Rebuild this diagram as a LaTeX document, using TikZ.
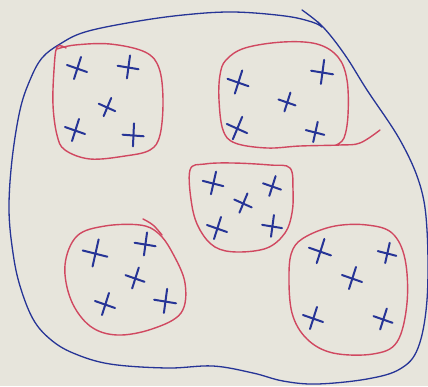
\documentclass[tikz,border=0pt]{standalone}
\usepackage{tikz}
\usetikzlibrary{calc}

\definecolor{paper}{RGB}{231,229,220}
\definecolor{inkblue}{RGB}{38,52,150}
\definecolor{inkred}{RGB}{208,72,96}

\begin{document}
\begin{tikzpicture}[x=1pt,y=-1pt,
    outline/.style={inkblue, line width=1.3pt, line cap=round, line join=round},
    blob/.style={inkred, line width=1.4pt, line cap=round, line join=round},
    cross/.style={inkblue, line width=2pt, line cap=round}
]
\fill[paper] (0,0) rectangle (428,386);
\useasboundingbox (0,0) rectangle (428,386);

% outer curve
\draw[outline] plot[smooth, tension=0.6] coordinates {
    (302,10) (323,27) (345,55) (367,90) (400,140) (420,185) (427,230)
    (427,300) (418,348) (400,369) (367,379) (317,384) (283,381) (253,373)
    (213,366) (167,368) (110,364) (73,353) (50,339) (33,319) (20,286)
    (13,253) (9,210) (12,160) (20,110) (30,80) (42,58) (60,44) (85,32)
    (133,22) (183,15) (233,12) (285,16) (312,22) (322,27)};
\draw[outline] (322,27) -- (318,22);

% groups
\draw[blob] plot[smooth, tension=0.6] coordinates {
    (66,48) (57,47) (54,70) (53,105) (57,135) (65,150) (90,159) (125,156)
    (150,150) (160,135) (163,100) (159,68) (145,52) (110,44) (75,45) (57,49)};
\draw[blob] plot[smooth, tension=0.6] coordinates {
    (380,130) (360,143) (340,145) (300,146) (267,148) (235,143) (223,130)
    (219,100) (220,75) (226,60) (245,48) (283,42) (317,44) (338,57) (347,80)
    (348,115) (344,138) (336,145)};
\draw[blob] plot[smooth cycle, tension=0.6] coordinates {
    (190,170) (205,164) (233,163) (270,165) (290,168) (293,190) (292,213)
    (285,233) (267,248) (237,252) (215,247) (200,230) (192,206)};
\draw[blob] plot[smooth cycle, tension=0.6] coordinates {
    (77,236) (105,226) (140,225) (158,233) (172,252) (185,283) (181,313)
    (152,329) (117,335) (90,326) (71,300) (65,265)};
\draw[blob] plot[smooth, tension=0.6] coordinates {
    (143,219) (153,225) (162,235)};
\draw[blob] plot[smooth cycle, tension=0.6] coordinates {
    (307,236) (335,226) (367,225) (392,233) (405,259) (407,303) (397,342)
    (373,354) (333,353) (307,339) (292,313) (289,273) (293,249)};

% points
\foreach \px/\py/\rot/\sz in {
    77/68/0/1, 128/67/10/1, 107/107/-5/0.85, 75/130/0/1, 133/135/15/1,
    238/82/0/1.05, 322/72/10/1.05, 287/102/0/0.85, 237/128/-5/1.05, 315/132/5/0.9,
    213/183/5/1, 272/186/0/0.9, 243/203/-5/0.9, 217/228/0/1, 272/226/10/0.95,
    95/253/5/1.2, 145/244/10/1, 135/278/0/0.95, 105/304/0/1, 165/301/10/1.05,
    320/251/0/1.1, 387/253/5/0.9, 352/278/0/1, 313/318/0/1, 383/319/0/0.95} {
  \begin{scope}[shift={(\px,\py)}, rotate=\rot, scale=\sz]
    \draw[cross] (-10,-3) -- (10,4);
    \draw[cross] (4,-11) .. controls (1,0) .. (-3,11);
  \end{scope}
}
\end{tikzpicture}
\end{document}
